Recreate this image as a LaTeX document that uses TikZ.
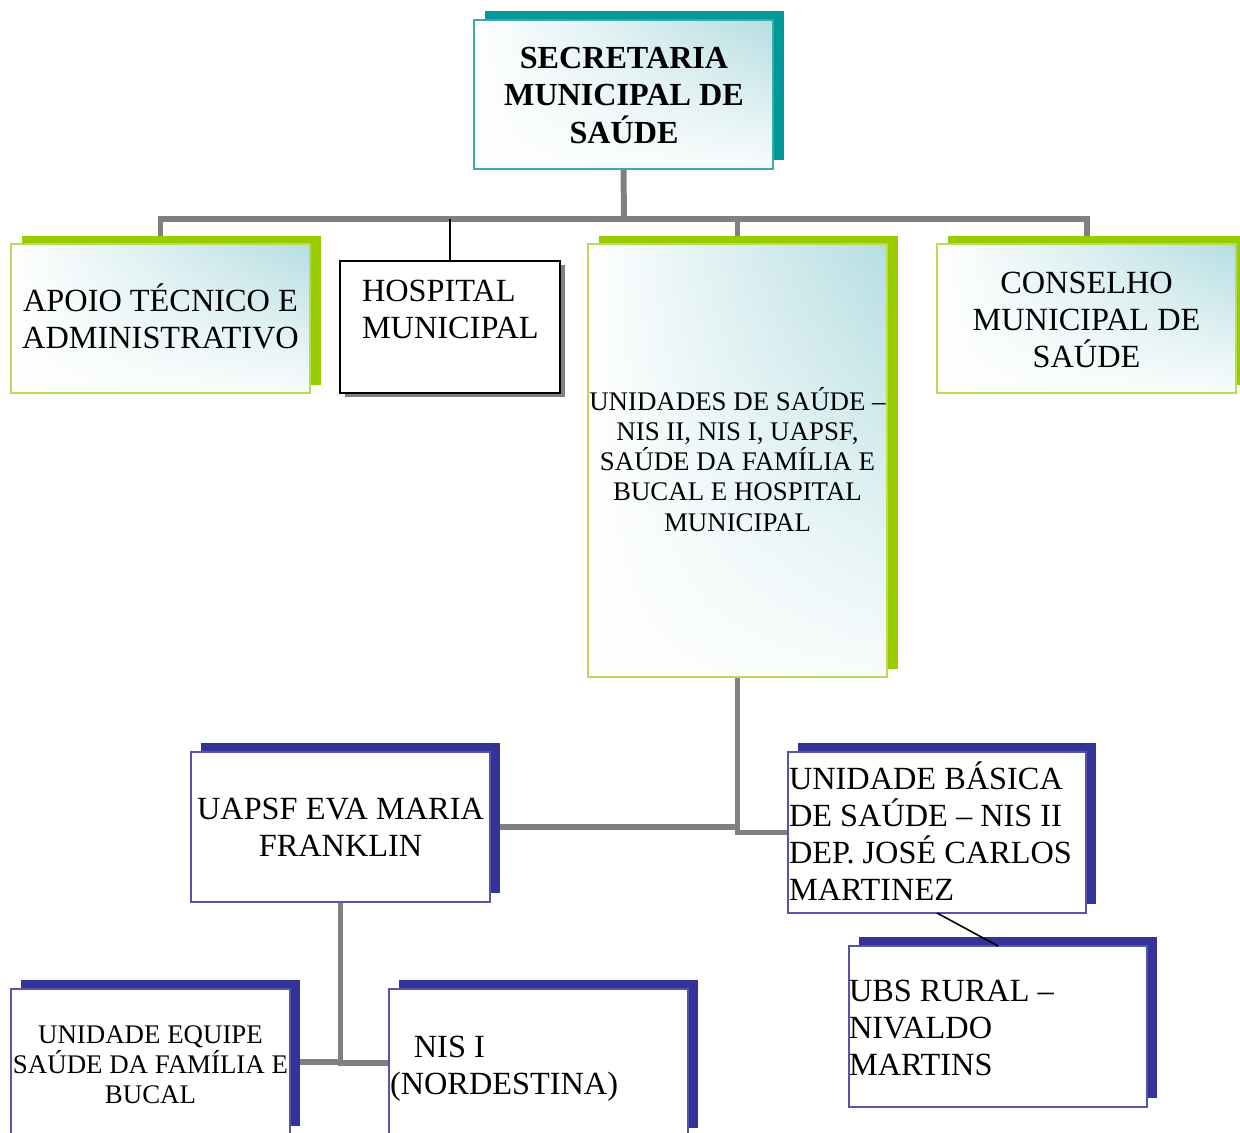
\documentclass[tikz,border=0pt]{standalone}
\usepackage{fontspec}
\setmainfont{Liberation Serif}
\usetikzlibrary{fit,shadows,backgrounds,fadings}
\definecolor{tealS}{RGB}{0,153,153}
\definecolor{tealB}{RGB}{60,170,170}
\definecolor{lteal}{RGB}{182,222,226}
\definecolor{greenS}{RGB}{153,204,0}
\definecolor{greenB}{RGB}{184,219,90}
\definecolor{navyS}{RGB}{51,51,153}
\definecolor{navyB}{RGB}{85,85,170}
\definecolor{connG}{RGB}{128,128,128}
\newcommand\clines[1]{\vtop{\halign{\hfil##\hfil\cr#1\crcr}}}
\newcommand\llines[1]{\vtop{\halign{##\hfil\cr#1\crcr}}}
\begin{document}
\begin{tikzpicture}[x=0.02cm,y=-0.02cm,
  box/.style={inner sep=0pt, outer sep=0pt},
  gradfill/.style={left color=white, right color=lteal,
    path picture={\fill[white, fill opacity=0.92, path fading=north]
      (path picture bounding box.south west) rectangle (path picture bounding box.north east);}},
  tealbox/.style={box, draw=tealB, line width=1.1pt, gradfill,
    general shadow={fill=tealS, shadow xshift=6.2pt, shadow yshift=5.1pt}},
  greenbox/.style={box, draw=greenB, line width=1.1pt, gradfill,
    general shadow={fill=greenS, shadow xshift=6pt, shadow yshift=4.5pt}},
  navybox/.style={box, draw=navyB, line width=0.9pt, fill=white,
    general shadow={fill=navyS, shadow xshift=5.7pt, shadow yshift=5.1pt}},
  hospbox/.style={box, draw=black, line width=1.1pt, fill=white,
    general shadow={fill=connG, shadow xshift=2.8pt, shadow yshift=-2.4pt}},
  txt/.style={inner sep=0pt, outer sep=0pt, font=\fontsize{18.4}{21}\selectfont},
  smalltxt/.style={txt, font=\fontsize{15.3}{17.2}\selectfont},
  conn/.style={draw=connG, line width=3.4pt},
  thinl/.style={draw=black, line width=0.9pt}
]
\useasboundingbox (0,0) rectangle (1240,1132);

% boxes
\node[tealbox, fit={(474,20)(773,169)}] (sec) {};
\node[greenbox, fit={(11,244)(310,393)}] (apoio) {};
\node[hospbox, fit={(340,261)(560,393)}] (hosp) {};
\node[greenbox, fit={(588,244)(887,677)}] (unid) {};
\node[greenbox, fit={(937,244)(1236,393)}] (cons) {};
\node[navybox, fit={(191,752)(490,902)}] (uapsf) {};
\node[navybox, fit={(788,752)(1086,913)}] (ubs) {};
\node[navybox, fit={(849,946)(1147,1107)}] (rural) {};
\node[navybox, fit={(11,989)(290,1135)}] (equipe) {};
\node[navybox, fit={(389,989)(688,1137)}] (nis) {};

% texts
\node[txt, font=\fontsize{18.3}{21.3}\selectfont\bfseries, anchor=base] (secT) at (624,68.4)
  {\clines{SECRETARIA\cr MUNICIPAL DE\cr SAÚDE}};
\node[txt, anchor=base] (apoioT) at (160.5,311.5)
  {\clines{APOIO TÉCNICO E\cr ADMINISTRATIVO}};
\node[txt, anchor=base west] (hospT) at (362,301.5)
  {\llines{HOSPITAL\cr MUNICIPAL}};
\node[smalltxt, anchor=base] (unidT) at (737.5,410.2)
  {\clines{UNIDADES DE SAÚDE –\cr NIS II, NIS I, UAPSF,\cr SAÚDE DA FAMÍLIA E\cr BUCAL E HOSPITAL\cr MUNICIPAL}};
\node[txt, anchor=base] (consT) at (1086.5,293.4)
  {\clines{CONSELHO\cr MUNICIPAL DE\cr SAÚDE}};
\node[txt, anchor=base] (uapsfT) at (340.5,819.4)
  {\clines{UAPSF EVA MARIA\cr FRANKLIN}};
\node[txt, anchor=base west] (ubsT) at (789,789.4)
  {\llines{UNIDADE BÁSICA\cr DE SAÚDE – NIS II\cr DEP. JOSÉ CARLOS\cr MARTINEZ}};
\node[txt, anchor=base west] (ruralT) at (849,1001.2)
  {\llines{UBS RURAL –\cr NIVALDO\cr MARTINS}};
\node[smalltxt, font=\fontsize{15.3}{17}\selectfont, anchor=base] (equipeT) at (150.5,1043.7)
  {\clines{UNIDADE EQUIPE\cr SAÚDE DA FAMÍLIA E\cr BUCAL}};
\node[txt, anchor=base west] (nisT) at (390,1057.8)
  {\llines{\kern13.6pt NIS I\cr (NORDESTINA)}};

% connectors
\begin{scope}[on background layer]
  \coordinate (bar) at (624,219);
  \draw[conn] (sec.south) -- (bar);
  \draw[conn] (apoio.north) -- (apoio.north |- bar) -- (cons.north |- bar) -- (cons.north);
  \draw[conn] (unid.north) -- (unid.north |- bar);
  \draw[conn] (unid.south) |- (ubs.west);
  \draw[conn] (uapsf.east) -- (uapsf.east -| unid.south);
  \draw[conn] (equipe.east) -| (uapsf.south);
  \draw[conn] (nis.west) -| (uapsf.south);
\end{scope}
\draw[thinl] (hosp.north) -- (hosp.north |- bar);
\draw[thinl] (ubs.south) -- (rural.north);
\end{tikzpicture}
\end{document}
